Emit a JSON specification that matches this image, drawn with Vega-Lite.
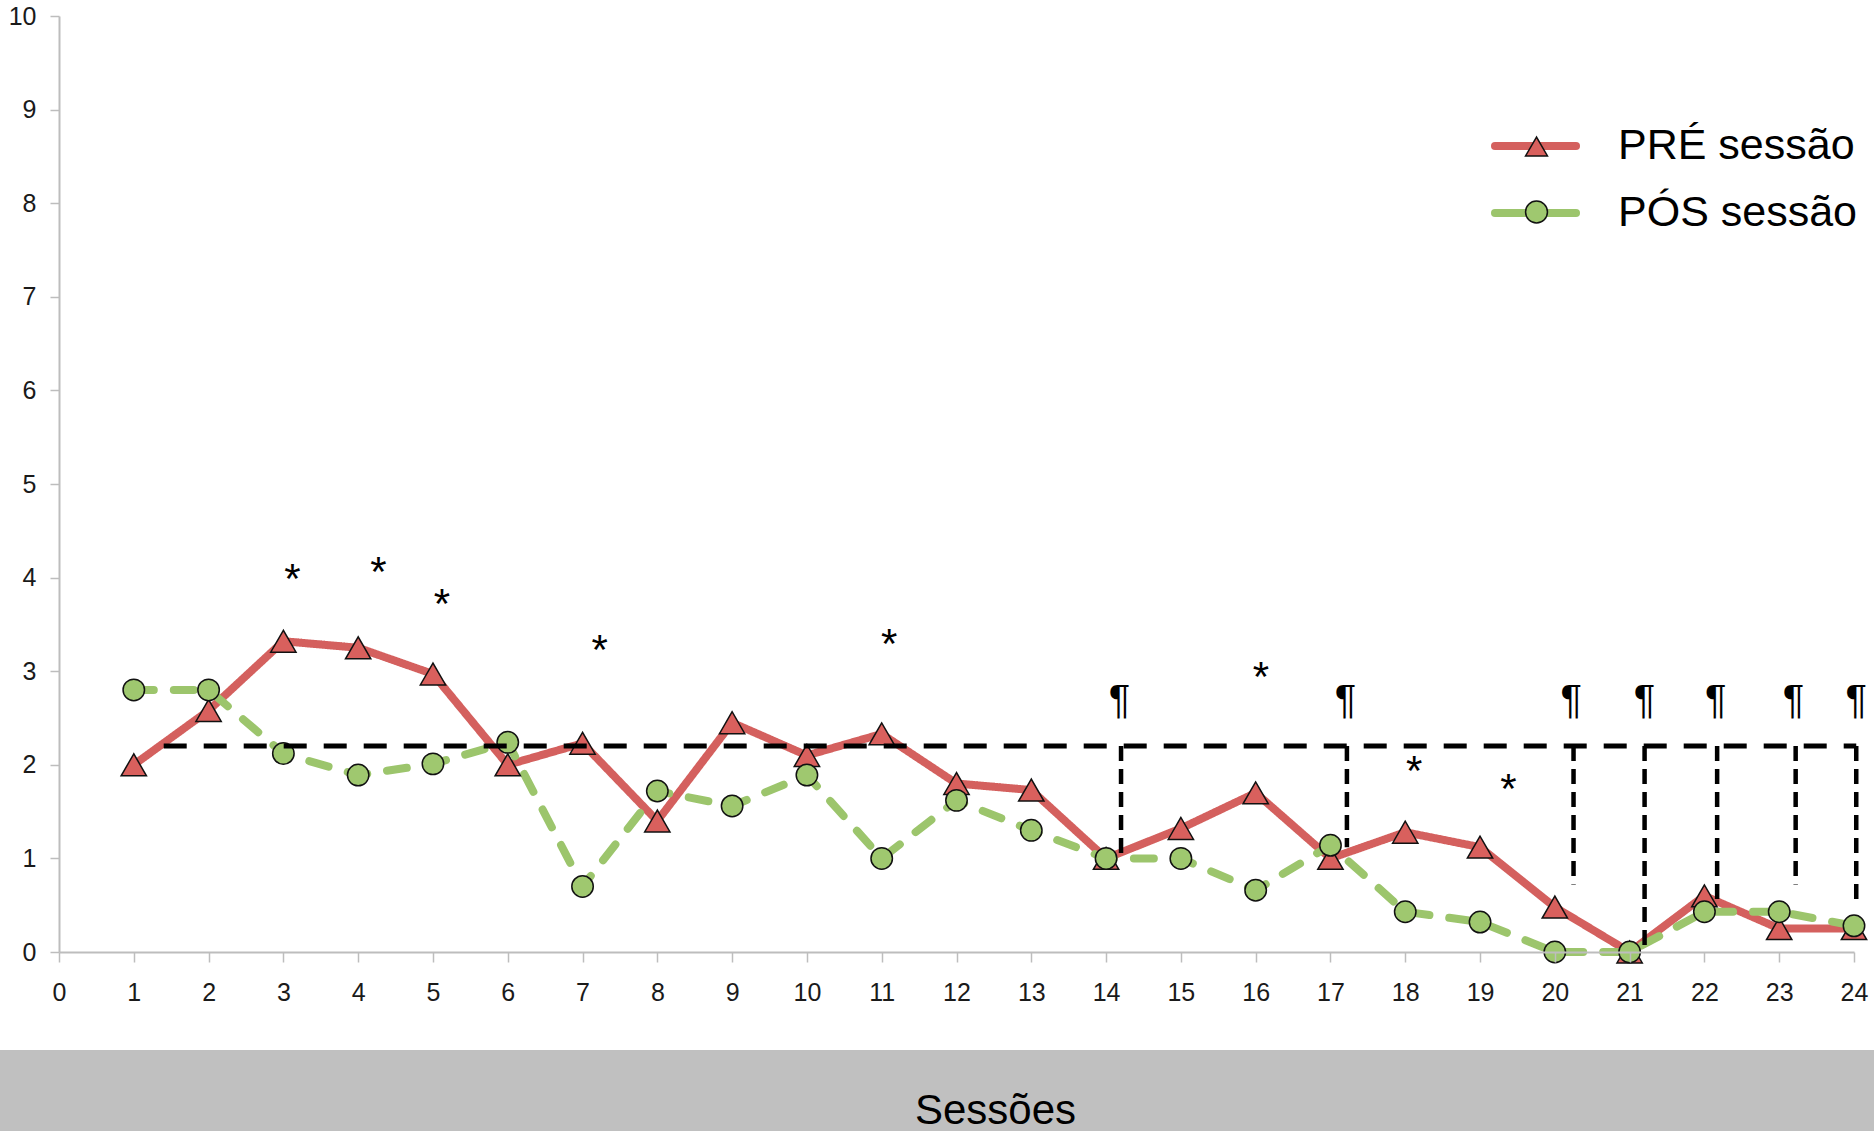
{
  "$schema": "https://vega.github.io/schema/vega-lite/v6.json",
  "width": 1795,
  "height": 936,
  "autosize": {"type": "none"},
  "padding": {"left": 59, "top": 16, "right": 20, "bottom": 179},
  "background": "white",
  "config": {"view": {"stroke": null}},
  "datasets": {
    "main": [
      {"sessao": 1, "serie": "PRÉ sessão", "valor": 2.0},
      {"sessao": 2, "serie": "PRÉ sessão", "valor": 2.58},
      {"sessao": 3, "serie": "PRÉ sessão", "valor": 3.32},
      {"sessao": 4, "serie": "PRÉ sessão", "valor": 3.25},
      {"sessao": 5, "serie": "PRÉ sessão", "valor": 2.97},
      {"sessao": 6, "serie": "PRÉ sessão", "valor": 2.0},
      {"sessao": 7, "serie": "PRÉ sessão", "valor": 2.23},
      {"sessao": 8, "serie": "PRÉ sessão", "valor": 1.4},
      {"sessao": 9, "serie": "PRÉ sessão", "valor": 2.45},
      {"sessao": 10, "serie": "PRÉ sessão", "valor": 2.1},
      {"sessao": 11, "serie": "PRÉ sessão", "valor": 2.33},
      {"sessao": 12, "serie": "PRÉ sessão", "valor": 1.8},
      {"sessao": 13, "serie": "PRÉ sessão", "valor": 1.73},
      {"sessao": 14, "serie": "PRÉ sessão", "valor": 1.0},
      {"sessao": 15, "serie": "PRÉ sessão", "valor": 1.32},
      {"sessao": 16, "serie": "PRÉ sessão", "valor": 1.7},
      {"sessao": 17, "serie": "PRÉ sessão", "valor": 1.0},
      {"sessao": 18, "serie": "PRÉ sessão", "valor": 1.28},
      {"sessao": 19, "serie": "PRÉ sessão", "valor": 1.12},
      {"sessao": 20, "serie": "PRÉ sessão", "valor": 0.48},
      {"sessao": 21, "serie": "PRÉ sessão", "valor": 0.0},
      {"sessao": 22, "serie": "PRÉ sessão", "valor": 0.6},
      {"sessao": 23, "serie": "PRÉ sessão", "valor": 0.25},
      {"sessao": 24, "serie": "PRÉ sessão", "valor": 0.25},
      {"sessao": 1, "serie": "PÓS sessão", "valor": 2.8},
      {"sessao": 2, "serie": "PÓS sessão", "valor": 2.8},
      {"sessao": 3, "serie": "PÓS sessão", "valor": 2.12},
      {"sessao": 4, "serie": "PÓS sessão", "valor": 1.89},
      {"sessao": 5, "serie": "PÓS sessão", "valor": 2.01},
      {"sessao": 6, "serie": "PÓS sessão", "valor": 2.24},
      {"sessao": 7, "serie": "PÓS sessão", "valor": 0.7},
      {"sessao": 8, "serie": "PÓS sessão", "valor": 1.72},
      {"sessao": 9, "serie": "PÓS sessão", "valor": 1.56},
      {"sessao": 10, "serie": "PÓS sessão", "valor": 1.89},
      {"sessao": 11, "serie": "PÓS sessão", "valor": 1.0},
      {"sessao": 12, "serie": "PÓS sessão", "valor": 1.62},
      {"sessao": 13, "serie": "PÓS sessão", "valor": 1.3},
      {"sessao": 14, "serie": "PÓS sessão", "valor": 1.0},
      {"sessao": 15, "serie": "PÓS sessão", "valor": 1.0},
      {"sessao": 16, "serie": "PÓS sessão", "valor": 0.66},
      {"sessao": 17, "serie": "PÓS sessão", "valor": 1.14},
      {"sessao": 18, "serie": "PÓS sessão", "valor": 0.43},
      {"sessao": 19, "serie": "PÓS sessão", "valor": 0.32},
      {"sessao": 20, "serie": "PÓS sessão", "valor": 0.0},
      {"sessao": 21, "serie": "PÓS sessão", "valor": 0.0},
      {"sessao": 22, "serie": "PÓS sessão", "valor": 0.43},
      {"sessao": 23, "serie": "PÓS sessão", "valor": 0.43},
      {"sessao": 24, "serie": "PÓS sessão", "valor": 0.28}
    ],
    "limiar": [{"sessao": 1.4, "fim": 24.03, "valor": 2.2}],
    "quedas": [
      {"sessao": 14.2, "valor": 2.2, "fim": 1.05},
      {"sessao": 17.22, "valor": 2.2, "fim": 1.12},
      {"sessao": 20.25, "valor": 2.2, "fim": 0.72},
      {"sessao": 21.2, "valor": 2.2, "fim": 0.05},
      {"sessao": 22.17, "valor": 2.2, "fim": 0.5},
      {"sessao": 23.22, "valor": 2.2, "fim": 0.72},
      {"sessao": 24.03, "valor": 2.2, "fim": 0.48}
    ],
    "asteriscos": [
      {"sessao": 3.12, "valor": 4.1, "marca": "*"},
      {"sessao": 4.27, "valor": 4.18, "marca": "*"},
      {"sessao": 5.12, "valor": 3.84, "marca": "*"},
      {"sessao": 7.23, "valor": 3.34, "marca": "*"},
      {"sessao": 11.1, "valor": 3.41, "marca": "*"},
      {"sessao": 16.07, "valor": 3.06, "marca": "*"},
      {"sessao": 18.12, "valor": 2.05, "marca": "*"},
      {"sessao": 19.38, "valor": 1.86, "marca": "*"}
    ],
    "paragrafos": [
      {"sessao": 14.18, "valor": 2.68, "marca": "¶"},
      {"sessao": 17.2, "valor": 2.68, "marca": "¶"},
      {"sessao": 20.22, "valor": 2.68, "marca": "¶"},
      {"sessao": 21.2, "valor": 2.68, "marca": "¶"},
      {"sessao": 22.15, "valor": 2.68, "marca": "¶"},
      {"sessao": 23.19, "valor": 2.68, "marca": "¶"},
      {"sessao": 24.03, "valor": 2.68, "marca": "¶"}
    ]
  },
  "layer": [
    {
      "data": {"values": [{}]},
      "mark": {"type": "rect", "color": "#c0c0c0", "clip": false},
      "encoding": {
        "x": {"datum": -0.79, "type": "quantitative", "title": "Sessões"},
        "x2": {"datum": 24.27},
        "y": {"datum": -1.048, "type": "quantitative", "title": null},
        "y2": {"datum": -1.92}
      }
    },
    {
      "data": {"name": "main"},
      "mark": {"type": "line", "strokeWidth": 8, "strokeCap": "round", "strokeJoin": "round"},
      "encoding": {
        "x": {
          "field": "sessao", "type": "quantitative", "title": "Sessões",
          "scale": {"domain": [0, 24], "nice": false, "zero": false},
          "axis": {
            "values": [0,1,2,3,4,5,6,7,8,9,10,11,12,13,14,15,16,17,18,19,20,21,22,23,24],
            "format": "d",
            "grid": false, "zindex": 1,
            "domainColor": "#bdbdbd", "domainWidth": 2,
            "tickColor": "#bdbdbd", "tickWidth": 1.5, "tickSize": 10,
            "labelFont": "Liberation Sans Narrow, Liberation Sans, Arial", "labelFontSize": 25,
            "labelColor": "#1a1a1a", "labelPadding": 18, "labelFlush": false, "labelOverlap": false,
            "titleFont": "Liberation Sans", "titleFontSize": 42, "titleFontWeight": "normal",
            "titleColor": "#000000", "titleX": 936, "titleY": 171,
            "titleBaseline": "alphabetic", "titleAlign": "center"
          }
        },
        "y": {
          "field": "valor", "type": "quantitative", "title": null,
          "scale": {"domain": [0, 10], "nice": false, "zero": false},
          "axis": {
            "values": [0,1,2,3,4,5,6,7,8,9,10],
            "format": "d",
            "grid": false,
            "domainColor": "#bdbdbd", "domainWidth": 2,
            "tickColor": "#bdbdbd", "tickWidth": 1.5, "tickSize": 9,
            "labelFont": "Liberation Sans Narrow, Liberation Sans, Arial", "labelFontSize": 25,
            "labelColor": "#1a1a1a", "labelPadding": 14, "labelFlush": false, "labelOverlap": false
          }
        },
        "color": {
          "field": "serie", "type": "nominal",
          "scale": {"domain": ["PRÉ sessão", "PÓS sessão"], "range": ["#d4605e", "#9cc56c"]},
          "legend": {
            "orient": "none", "legendX": 1432, "legendY": 85.5, "title": null, "padding": 0,
            "symbolType": "stroke", "symbolSize": 6561, "symbolStrokeWidth": 8,
            "labelFont": "Liberation Sans", "labelFontSize": 43, "labelColor": "#000000",
            "labelOffset": 38, "rowPadding": 0, "labelLimit": 500,
            "encode": {"symbols": {"update": {"strokeCap": {"value": "round"}}}}
          }
        },
        "strokeDash": {
          "field": "serie", "type": "nominal",
          "scale": {"domain": ["PÓS sessão", "PRÉ sessão"], "range": [[20, 20], [1, 0]]},
          "legend": null
        }
      }
    },
    {
      "data": {"name": "main"},
      "mark": {"type": "point", "filled": true, "strokeWidth": 1.5, "opacity": 1},
      "encoding": {
        "x": {"field": "sessao", "type": "quantitative", "title": "Sessões"},
        "y": {"field": "valor", "type": "quantitative", "title": null},
        "fill": {
          "field": "serie", "type": "nominal",
          "scale": {"range": ["#d9605d", "#9fc86f"]},
          "legend": {
            "orient": "none", "legendX": 1456, "legendY": 109, "title": null, "padding": 0,
            "symbolSize": 480, "symbolStrokeWidth": 1.5,
            "labelFont": "Liberation Sans", "labelFontSize": 43, "labelOpacity": 0,
            "rowPadding": 21.5, "labelLimit": 500
          }
        },
        "stroke": {
          "field": "serie", "type": "nominal",
          "scale": {"range": ["#111111", "#111111"]},
          "legend": {
            "orient": "none", "legendX": 1456, "legendY": 109, "title": null, "padding": 0,
            "symbolSize": 480, "symbolStrokeWidth": 1.5,
            "labelFont": "Liberation Sans", "labelFontSize": 43, "labelOpacity": 0,
            "rowPadding": 21.5, "labelLimit": 500
          }
        },
        "shape": {
          "field": "serie", "type": "nominal",
          "scale": {"range": ["triangle-up", "circle"]},
          "legend": {
            "orient": "none", "legendX": 1456, "legendY": 109, "title": null, "padding": 0,
            "symbolSize": 480, "symbolStrokeWidth": 1.5,
            "labelFont": "Liberation Sans", "labelFontSize": 43, "labelOpacity": 0,
            "rowPadding": 21.5, "labelLimit": 500
          }
        },
        "size": {
          "field": "serie", "type": "nominal",
          "scale": {"domain": ["PÓS sessão", "PRÉ sessão"], "range": [460, 640]},
          "legend": null
        }
      }
    },
    {
      "data": {"name": "limiar"},
      "mark": {"type": "rule", "color": "#000000", "strokeWidth": 5, "strokeDash": [23, 17]},
      "encoding": {
        "x": {"field": "sessao", "type": "quantitative", "title": "Sessões"},
        "x2": {"field": "fim"},
        "y": {"field": "valor", "type": "quantitative", "title": null}
      }
    },
    {
      "data": {"name": "quedas"},
      "mark": {"type": "rule", "color": "#000000", "strokeWidth": 4.5, "strokeDash": [15, 8]},
      "encoding": {
        "x": {"field": "sessao", "type": "quantitative", "title": "Sessões"},
        "y": {"field": "valor", "type": "quantitative", "title": null},
        "y2": {"field": "fim"}
      }
    },
    {
      "data": {"name": "asteriscos"},
      "mark": {"type": "text", "font": "Liberation Sans", "fontSize": 42, "color": "#000000", "align": "center", "baseline": "middle", "dy": 12},
      "encoding": {
        "x": {"field": "sessao", "type": "quantitative", "title": "Sessões"},
        "y": {"field": "valor", "type": "quantitative", "title": null},
        "text": {"field": "marca"}
      }
    },
    {
      "data": {"name": "paragrafos"},
      "mark": {"type": "text", "font": "Liberation Sans", "fontSize": 40, "color": "#000000", "align": "center", "baseline": "middle"},
      "encoding": {
        "x": {"field": "sessao", "type": "quantitative", "title": "Sessões"},
        "y": {"field": "valor", "type": "quantitative", "title": null},
        "text": {"field": "marca"}
      }
    }
  ]
}
